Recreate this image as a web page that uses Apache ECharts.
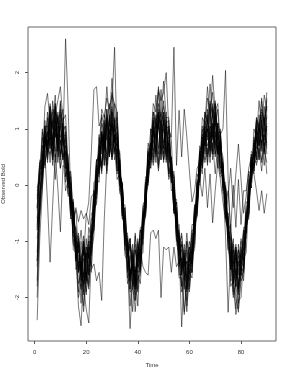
<!DOCTYPE html>
<html>
<head>
<meta charset="utf-8">
<script src="https://cdn.jsdelivr.net/npm/echarts@6/dist/echarts.min.js"></script>
<style>
html,body{margin:0;padding:0;background:#fff;}
#chart{width:291px;height:376px;}
</style>
</head>
<body>
<div id="chart"></div>
<script>
const xTicks = [0, 20, 40, 60, 80];
const yTicks = [-2, -1, 0, 1, 2];
const time = Array.from({length: 90}, (_, i) => i + 1);

const bold01 = [-1.35,-0.10,0.15,1.05,0.55,1.30,0.70,1.45,0.60,1.25, 0.80,2.60,1.40,-0.25,-0.30,-1.35,-0.95,-1.80,-1.10,-1.65, -1.05,-1.25,-0.10,-0.25,0.85,0.35,1.10,0.55,1.20,0.70, 1.15,0.35,0.45,-0.55,-0.45,-1.50,-0.95,-1.85,-1.15,-1.45, -0.80,-0.95,0.15,0.05,1.00,0.55,1.25,0.65,1.20,0.75, 1.05,0.25,0.40,-0.50,-0.40,-1.45,-1.05,-1.70,-1.20,-1.55, -0.85,-0.90,0.20,0.05,1.00,0.60,1.35,0.65,1.25,0.55, 1.10,0.30,0.35,-0.60,-0.50,-1.50,-0.95,-1.80,-1.15,-1.60, -0.80,-0.85,0.20,-0.05,0.85,0.45,1.10,0.60,1.20,0.70];
const bold02 = [-0.45,0.35,0.30,0.85,0.60,1.40,0.55,1.00,0.85,0.45, 1.20,0.05,0.30,-0.60,-0.55,-1.30,-1.05,-1.85,-1.00,-1.70, -0.90,-0.95,0.05,0.10,0.90,0.20,1.15,0.85,0.55,1.45, 2.45,0.70,0.60,-0.35,-0.60,-1.55,-1.25,-1.60,-1.95,-1.10, -1.20,-0.35,-0.25,0.75,0.50,0.95,0.40,1.20,1.05,0.55, 1.20,0.45,0.50,-0.45,-0.30,-1.25,-1.15,-1.85,-1.00,-1.70, -1.00,-1.05,0.05,0.10,0.85,0.70,1.15,0.60,1.35,0.90, 0.55,0.85,0.05,-0.05,-0.85,-0.95,-1.70,-1.15,-1.85,-1.00, -1.35,-0.60,-0.50,0.55,0.25,1.05,0.70,1.15,0.55,1.00];
const bold03 = [-0.10,0.05,0.95,0.70,1.20,0.65,1.15,0.40,1.30,0.80, 0.45,0.95,0.10,0.25,-0.60,-0.45,-1.20,-0.80,-1.25,-0.55, -0.30,0.60,1.70,1.75,1.05,1.20,0.45,1.10,0.80,0.50, 1.20,0.25,0.35,-0.55,-0.40,-1.25,-1.05,-1.45,-1.55,-0.95, -1.50,-0.60,-0.55,0.45,0.30,1.15,0.85,1.30,0.45,1.15, 0.40,1.05,0.15,0.25,-0.75,-0.70,-1.45,-1.20,-1.65,-1.10, -1.40,-0.35,-0.40,0.70,0.55,0.95,0.40,1.05,0.95,1.30, 0.40,0.95,0.10,-0.05,-0.80,-0.70,-1.45,-1.15,-1.60,-1.25, -1.20,-0.40,-0.30,0.40,0.35,0.85,0.70,1.25,0.60,1.35];
const bold04 = [-2.40,-0.95,-0.10,0.80,0.40,0.95,0.50,1.15,0.65,0.30, 1.10,0.15,0.30,-0.55,-0.45,-1.50,-1.35,-2.10,-1.30,-1.95, -1.20,-1.45,-0.40,-0.35,0.45,0.30,1.05,0.35,1.20,0.55, 1.05,0.25,0.45,-0.60,-0.65,-1.65,-1.50,-1.80,-1.05,-1.85, -0.95,-1.05,-0.15,0.00,0.75,0.45,0.90,0.40,1.10,0.45, 1.05,0.20,0.40,-0.50,-0.45,-1.40,-1.30,-1.60,-2.05,-1.25, -1.55,-0.60,-0.55,0.40,0.20,0.95,0.55,0.95,0.55,1.25, 0.55,0.70,-0.15,-0.15,-1.15,-1.10,-1.75,-1.50,-1.95,-1.10, -1.50,-0.65,-0.60,0.35,0.20,0.85,0.60,1.00,0.70,1.05];
const bold05 = [-2.00,-0.55,0.10,1.05,1.05,1.40,1.15,1.60,0.80,1.45, 0.95,1.05,0.15,0.05,-1.15,-1.20,-2.15,-2.50,-1.55,-1.90, -1.45,-1.55,-0.45,-0.30,0.70,0.55,1.25,1.05,1.45,0.95, 1.45,0.70,0.55,-0.55,-0.80,-1.75,-1.60,-2.25,-1.50,-2.15, -1.25,-1.20,-0.05,0.15,1.00,0.90,1.60,1.00,1.70,1.05, 1.30,0.60,0.50,-0.45,-0.65,-1.60,-1.55,-2.25,-1.55,-1.85, -1.15,-1.10,0.00,0.20,1.05,0.95,1.55,1.30,1.65,1.05, 1.35,0.55,0.45,-0.55,-0.80,-1.70,-1.65,-2.20,-1.75,-1.45, -1.70,-0.75,-0.50,0.50,0.50,1.20,1.05,1.30,1.15,1.40];
const bold06 = [-0.40,0.40,0.35,0.55,-0.30,-1.37,-0.35,0.55,-0.05,-0.83, 0.35,0.30,0.30,-0.40,-0.40,-1.25,-0.90,-1.60,-1.05,-1.30, -1.00,-1.05,-0.20,-0.15,0.60,0.35,0.70,0.25,0.85,0.45, 0.90,0.20,0.35,-0.50,-0.40,-1.20,-0.95,-1.55,-0.90,-1.45, -0.80,-0.80,0.10,0.10,0.75,0.40,1.05,0.30,0.95,0.40, 0.95,0.15,0.35,-0.45,-0.30,-1.15,-0.85,-1.50,-1.00,-1.25, -1.15,-0.35,-0.30,0.45,0.30,0.95,0.35,1.00,0.45,0.95, 0.30,0.70,-0.10,-0.05,-0.90,-0.80,-1.40,-1.05,-1.45,-0.95, -1.15,-0.30,-0.30,0.40,0.25,0.85,0.45,0.80,0.35,0.90];
const bold07 = [-0.95,-0.50,0.70,0.65,0.95,0.80,1.30,0.85,1.20,0.50, 0.80,0.55,0.50,-0.40,-0.30,-1.30,-1.15,-1.45,-1.80,-1.20, -1.45,-0.85,-0.80,0.10,0.05,0.95,0.65,1.15,0.80,1.10, 0.75,1.30,0.05,0.00,-0.95,-1.00,-1.85,-1.25,-1.55,-1.90, -1.15,-1.45,-1.55,-1.60,-0.85,-0.80,-0.95,-0.80,-2.00,-1.10, -1.15,-1.10,-1.55,-1.10,-1.45,-1.35,-1.80,-1.30,-1.85,-1.25, -1.35,-0.55,-0.40,0.55,0.40,1.05,0.85,1.30,0.55,1.25, 0.60,0.80,-0.05,-0.05,-0.95,-0.90,-1.65,-1.10,-1.85,-1.15, -1.25,-0.45,-0.35,0.45,0.30,1.00,0.45,1.15,0.60,1.25];
const bold08 = [-0.75,0.20,0.25,0.90,0.70,1.00,0.35,1.20,0.60,1.15, 0.50,0.70,-0.05,0.05,-0.85,-0.75,-1.55,-1.25,-1.60,-0.95, -1.55,-0.70,-0.65,0.30,0.25,0.80,0.60,1.20,0.50,1.20, 0.60,0.85,0.10,0.05,-0.85,-0.85,-1.60,-1.30,-1.75,-1.20, -1.30,-0.50,-0.45,0.45,0.35,1.05,0.50,1.25,0.95,1.10, 0.55,1.00,0.85,2.45,0.35,1.33,0.50,1.35,0.85,0.25, -0.30,-0.10,0.30,0.40,0.90,0.70,1.00,0.55,1.10,0.75, 0.90,0.30,0.40,-0.45,-0.60,-1.40,-1.15,-1.75,-1.05,-1.50, -0.80,-0.85,0.00,0.05,0.75,0.55,0.95,0.40,0.95,0.75];
const bold09 = [-0.70,-0.35,0.60,0.55,0.75,1.15,0.45,1.05,0.40,1.10, 0.45,0.60,-0.15,-0.20,-0.90,-0.95,-1.55,-1.00,-1.65,-1.10, -1.30,-0.60,-0.55,0.35,0.20,0.85,0.35,1.05,0.55,1.10, 0.45,0.65,-0.15,-0.20,-1.00,-1.05,-1.65,-1.05,-1.70,-1.00, -1.35,-0.55,-0.50,0.40,0.30,0.90,0.75,1.15,0.45,1.15, 0.50,0.75,0.05,0.05,-0.85,-0.85,-1.45,-1.25,-1.50,-1.00, -1.25,-0.40,-0.35,0.10,-0.20,0.30,-0.40,0.20,-0.67,-0.10, 0.40,0.10,-0.30,-0.60,-0.20,0.30,-0.40,0.20,0.73,0.10, -0.50,-0.20,0.30,0.50,0.20,-0.10,-0.45,-0.10,-0.50,-0.15];
const bold10 = [-0.25,0.10,0.85,0.30,1.05,0.40,1.15,0.50,0.75,0.55, 0.85,0.15,0.40,-0.45,-0.25,-1.05,-0.85,-1.50,-0.90,-1.45, -0.75,-0.95,-0.10,-0.10,0.55,0.30,0.90,0.35,1.00,0.45, 0.90,0.30,0.40,-0.35,-0.35,-1.10,-0.95,-1.50,-0.85,-1.40, -0.75,-0.75,0.05,0.05,0.65,0.50,0.75,0.35,0.80,0.55, 0.75,0.20,0.40,-0.25,-0.25,-1.05,-0.90,-1.45,-0.85,-1.35, -0.70,-0.70,0.10,0.05,0.75,0.45,1.00,0.40,1.10,0.50, 0.85,0.20,0.30,-0.35,-0.10,-0.80,0.00,-0.75,0.10,-0.70, -0.10,-0.10,0.25,0.15,0.45,0.40,0.65,0.25,0.75,0.20];
const bold11 = [-1.70,-0.30,0.40,1.40,1.63,1.10,1.35,1.25,1.50,1.75, 1.15,1.25,0.30,0.10,-1.05,-1.20,-2.00,-1.75,-2.25,-1.55, -1.85,-1.00,-0.75,0.40,0.60,1.35,1.20,1.55,1.35,1.60, 1.45,1.30,0.25,-0.05,-1.25,-1.35,-2.15,-1.55,-2.25,-1.60, -1.75,-0.80,-0.55,0.60,0.75,1.45,1.30,1.70,1.50,1.65, 2.00,1.00,0.80,-0.30,-0.70,-1.65,-1.65,-2.30,-1.75,-1.90, -1.25,-1.15,-0.10,0.25,1.20,1.10,1.75,1.20,1.95,1.30, 1.45,0.70,0.50,-0.55,-0.85,-1.80,-1.70,-2.30,-2.05,-2.00, -1.30,-1.20,-0.20,0.15,1.00,0.85,1.50,1.00,1.60,1.35];
const bold12 = [-0.80,0.20,0.20,0.90,0.75,1.00,0.45,1.25,0.65,0.80, 0.55,0.60,-0.20,-0.10,-0.60,-0.40,-0.65,-0.45,-0.60,-0.50, -0.70,-0.20,-0.15,0.45,0.45,0.95,0.75,1.15,0.90,1.05, 0.75,0.85,0.10,0.00,-0.90,-0.90,-1.55,-1.40,-1.80,-1.05, -1.30,-0.45,-0.40,0.55,0.45,1.00,0.85,1.10,0.55,1.30, 0.65,0.80,0.15,0.05,-0.80,-0.80,-1.50,-1.25,-1.85,-1.10, -1.30,-0.50,-0.35,0.50,0.40,1.05,0.50,1.20,0.60,1.30, 0.65,0.80,0.05,0.05,-0.85,-0.85,-1.55,-1.30,-1.50,-1.20, -1.30,-0.50,-0.40,0.45,0.35,0.95,0.70,0.90,0.80,1.05];
const bold13 = [-1.20,-0.05,0.15,0.80,0.65,1.20,1.00,1.40,0.75,1.05, 0.75,0.80,0.05,0.15,-0.65,-0.75,-1.45,-1.35,-1.75,-1.45, -1.60,-0.95,-0.70,0.25,0.30,0.90,0.65,1.25,0.75,1.40, 0.80,0.95,0.15,0.05,-0.95,-0.95,-1.70,-1.20,-1.85,-1.25, -1.45,-0.60,-0.40,0.50,0.45,1.10,0.90,1.45,0.85,1.50, 0.90,0.95,0.15,0.20,-0.75,-0.85,-1.55,-1.30,-1.90,-1.25, -1.40,-0.55,-0.45,0.55,0.50,1.15,0.95,1.20,1.45,0.85, 1.10,0.90,1.00,2.04,0.10,-0.90,-1.10,-1.65,-1.50,-1.70, -1.00,-0.95,-0.05,0.05,0.80,0.65,1.25,0.70,1.40,0.90];
const bold14 = [-1.45,-0.25,0.05,0.85,0.70,1.10,0.85,1.40,0.80,1.50, 0.85,0.90,0.10,0.00,-0.90,-1.00,-1.75,-1.55,-1.80,-2.20, -2.45,-1.20,-0.90,0.20,0.15,0.90,0.70,1.35,0.90,1.30, 1.05,1.10,0.20,0.00,-1.15,-1.35,-2.55,-1.70,-1.85,-1.65, -1.60,-0.70,-0.50,0.55,0.55,1.30,1.00,1.35,1.20,1.40, 1.10,1.15,0.25,0.10,-0.95,-1.10,-2.52,-1.55,-2.15,-1.40, -1.55,-0.65,-0.40,0.60,0.60,1.30,1.15,1.45,1.25,1.45, 0.85,1.00,0.10,-0.10,-1.15,-1.30,-2.00,-1.75,-2.20,-1.70, -1.60,-0.75,-0.50,0.45,0.45,1.15,0.95,1.20,1.10,1.40];
const bold15 = [-0.80,-0.55,0.55,0.35,0.95,0.65,0.85,0.60,1.25,0.55, 1.05,0.35,0.40,-0.35,-0.30,-1.10,-1.00,-1.55,-1.00,-1.70, -1.10,-1.50,-1.40,-1.70,-1.55,-2.05,-0.60,0.40,0.70,0.95, 0.60,0.75,0.00,-0.10,-1.00,-0.95,-1.60,-1.40,-1.55,-1.35, -1.40,-0.55,-0.45,0.40,0.40,0.95,0.55,1.25,0.65,1.20, 0.60,0.75,0.05,0.00,-0.90,-0.90,-1.55,-1.15,-1.80,-1.35, -1.45,-0.60,-0.50,0.45,0.35,1.00,0.80,1.05,0.85,1.10, 0.55,0.75,-0.05,-0.05,-0.95,-0.95,-1.65,-1.10,-1.85,-1.25, -1.35,-0.50,-0.40,0.35,0.30,1.00,0.75,0.95,0.85,1.10];
const bold16 = [-0.60,0.30,0.30,1.00,0.85,1.45,0.75,1.35,1.15,1.30, 1.00,1.05,0.25,0.20,-0.70,-0.80,-1.50,-1.25,-1.90,-1.20, -1.75,-0.90,-0.60,0.35,0.35,1.10,0.95,1.20,1.05,1.65, 0.95,1.05,0.15,0.00,-0.90,-1.00,-1.65,-1.50,-1.70,-1.15, -1.40,-0.50,-0.30,0.65,0.60,1.20,1.00,1.65,1.05,1.30, 1.00,1.05,0.20,0.15,-0.80,-0.90,-1.60,-1.35,-1.55,-1.30, -1.40,-0.50,-0.30,0.65,0.65,1.30,1.10,1.35,0.80,1.45, 0.80,0.90,0.05,0.00,-1.00,-1.05,-1.75,-1.20,-1.90,-1.35, -1.45,-0.55,-0.35,0.55,0.50,1.10,0.90,1.50,0.95,1.55];
const bold17 = [-0.05,0.15,1.00,0.40,0.65,0.55,0.75,0.10,0.90,0.30, 0.55,-0.10,0.10,-0.60,-0.55,-1.25,-1.00,-1.25,-1.15,-1.30, -1.00,-1.05,-0.15,-0.15,0.50,0.25,0.80,0.20,0.75,0.50, 0.65,0.10,0.20,-0.60,-0.55,-1.25,-1.05,-1.30,-1.15,-1.35, -0.80,-0.80,0.05,0.00,0.60,0.35,0.65,0.25,0.70,0.45, 0.65,0.10,0.25,-0.50,-0.50,-1.20,-1.00,-1.30,-1.15,-1.35, -0.80,-0.80,0.05,0.00,0.60,0.40,0.65,0.50,0.75,0.20, 0.70,0.15,0.20,-0.55,-0.55,-1.25,-1.05,-1.35,-1.15,-1.40, -0.75,-0.75,0.10,-0.05,0.55,0.35,0.60,0.45,0.65,0.40];
const bold18 = [-1.80,-0.50,-0.05,0.80,0.60,1.25,1.05,1.45,0.65,1.35, 0.70,0.85,0.05,-0.05,-1.05,-1.10,-1.90,-1.40,-2.15,-1.55, -1.80,-0.95,-0.80,0.20,0.20,0.85,0.75,1.35,0.70,1.30, 0.75,0.90,0.05,-0.10,-1.15,-1.15,-1.90,-1.85,-2.05,-1.40, -1.55,-0.70,-0.55,0.45,0.40,1.15,0.60,1.30,1.10,1.25, 0.75,0.85,0.05,0.00,-1.05,-1.20,-1.90,-1.70,-2.25,-1.55, -1.65,-0.75,-0.55,0.40,0.45,1.10,0.95,1.50,0.85,1.40, 0.80,0.90,0.00,-0.90,-2.26,-1.25,-1.95,-1.75,-1.85,-1.60, -1.55,-0.70,-0.55,0.35,0.35,1.00,0.80,1.05,0.95,1.20];
const bold19 = [-0.40,0.40,0.45,1.15,0.50,0.85,0.60,0.90,1.15,0.85, 1.00,0.30,0.35,-0.50,-0.40,-1.30,-1.25,-1.45,-1.00,-1.65, -1.15,-1.10,-0.15,-0.20,0.65,0.60,0.95,0.45,1.25,0.60, 1.10,0.40,0.45,-0.45,-0.50,-1.30,-1.10,-1.75,-1.45,-1.55, -0.90,-0.90,0.00,0.15,0.75,0.60,1.20,0.55,1.15,0.65, 1.15,0.40,0.50,-0.35,-0.40,-1.15,-1.05,-1.60,-1.35,-1.55, -0.90,-0.85,0.00,0.15,0.80,0.55,1.15,0.60,0.95,0.70, 1.05,0.35,0.40,-0.45,-0.50,-1.30,-1.15,-1.80,-1.25,-1.50, -0.85,-0.85,-0.05,0.10,0.75,0.50,1.05,0.65,1.10,0.55];
const bold20 = [-0.65,-0.35,0.70,0.65,1.30,0.70,1.50,0.85,1.05,0.75, 0.95,0.30,0.35,-0.45,-0.35,-1.20,-1.05,-1.70,-1.15,-1.75, -1.10,-1.20,-0.25,-0.10,0.70,0.65,0.95,0.80,1.05,1.35, 0.65,0.75,0.00,-0.10,-1.05,-1.05,-1.60,-1.45,-1.80,-1.55, -1.50,-0.60,-0.40,0.60,0.50,1.05,0.80,1.10,1.30,0.65, 1.10,0.50,0.45,-0.40,-0.50,-1.35,-1.30,-1.55,-1.35,-1.80, -1.10,-1.00,-0.05,0.10,0.85,0.70,1.25,0.75,1.40,0.65, 1.10,0.40,0.35,-0.50,-0.60,-1.50,-1.35,-2.00,-2.26,-1.50, -1.50,-0.60,-0.40,0.60,0.55,1.20,1.00,1.35,1.10,1.50];
const bold21 = [-1.35,-0.15,0.05,0.95,0.75,1.35,0.70,1.30,1.10,1.15, 1.35,0.55,0.55,-0.35,-0.45,-1.35,-1.30,-1.60,-1.95,-1.30, -1.60,-0.80,-0.65,0.45,0.50,1.25,1.05,1.75,1.15,1.90, 1.10,1.20,0.20,0.00,-1.05,-1.15,-1.85,-1.30,-2.05,-1.40, -1.50,-0.65,-0.45,0.55,0.60,1.30,1.05,1.75,1.20,1.85, 1.20,1.20,0.30,0.15,-0.95,-1.05,-1.80,-1.60,-1.75,-1.55, -1.55,-0.70,-0.50,0.55,0.65,1.25,1.10,1.80,1.20,1.50, 0.90,0.95,0.10,-0.05,-1.10,-1.20,-1.90,-1.35,-2.10,-1.45, -1.55,-0.65,-0.50,0.50,0.45,1.15,0.95,1.55,1.05,1.65];
const bold22 = [-0.20,0.45,0.40,1.05,0.45,1.20,0.55,1.15,0.50,0.75, 0.50,0.55,-0.15,-0.15,-1.00,-1.00,-1.55,-1.40,-1.75,-1.10, -1.30,-0.50,-0.45,0.45,0.40,0.95,0.35,1.00,0.50,1.15, 0.55,0.65,-0.10,-0.15,-1.05,-1.10,-1.70,-1.15,-1.80,-1.25, -1.25,-0.40,-0.30,0.60,0.45,0.80,0.65,1.05,0.80,1.00, 0.45,0.65,-0.10,-0.05,-1.00,-1.00,-1.60,-1.05,-1.70,-1.20, -1.20,-0.40,-0.25,0.60,0.30,0.95,0.70,0.85,1.05,0.55, 0.80,0.25,0.25,-0.65,-0.75,-1.50,-1.25,-1.60,-1.35,-1.60, -0.90,-0.80,0.05,0.10,0.65,0.45,1.00,0.75,0.90,0.65];

const allSeries = [bold01,bold02,bold03,bold04,bold05,bold06,bold07,bold08,bold09,bold10,bold11,
  bold12,bold13,bold14,bold15,bold16,bold17,bold18,bold19,bold20,bold21,bold22];

const chart = echarts.init(document.getElementById('chart'), null, {renderer: 'canvas'});
const labelFont = {fontFamily: 'Liberation Sans, Arial, sans-serif', fontSize: 6, color: '#333'};

chart.setOption({
  animation: false,
  backgroundColor: '#fff',
  grid: {left: 28, top: 27, right: 15, bottom: 35, show: true, borderColor: '#666', borderWidth: 1,
         backgroundColor: 'transparent', containLabel: false, outerBoundsMode: 'none'},
  xAxis: {
    type: 'value', min: -2.56, max: 93.56,
    name: 'Time', nameLocation: 'middle', nameGap: 21,
    nameTextStyle: labelFont,
    axisLine: {show: false, onZero: false},
    splitLine: {show: false},
    axisTick: {show: true, length: 3, customValues: xTicks, lineStyle: {color: '#555', width: 1}},
    axisLabel: Object.assign({customValues: xTicks, margin: 8}, labelFont)
  },
  yAxis: {
    type: 'value', min: -2.77, max: 2.81,
    name: 'Observed Bold', nameLocation: 'middle', nameGap: 17,
    nameTextStyle: labelFont,
    axisLine: {show: false, onZero: false},
    splitLine: {show: false},
    axisTick: {show: true, length: 3, customValues: yTicks, lineStyle: {color: '#555', width: 1}},
    axisLabel: Object.assign({customValues: yTicks, margin: 8, rotate: 90, align: 'center', verticalAlign: 'bottom'}, labelFont)
  },
  series: allSeries.map((vals, k) => ({
    type: 'line',
    name: 'subject' + (k + 1),
    data: vals.map((v, i) => [time[i], v]),
    showSymbol: false,
    silent: true,
    lineStyle: {color: '#000', width: 0.8, opacity: 0.65}
  }))
});
</script>
</body>
</html>
